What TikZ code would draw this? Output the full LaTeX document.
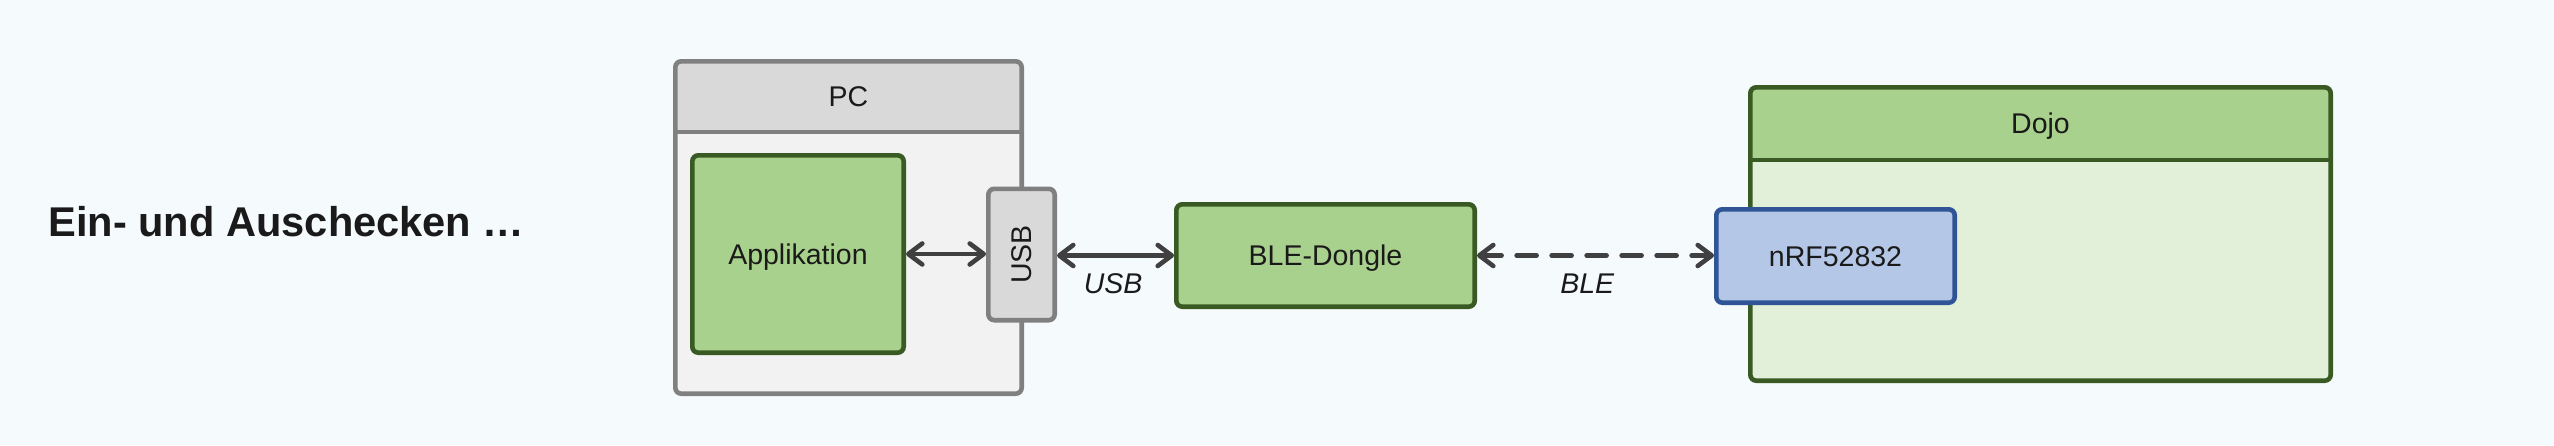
\documentclass[tikz,border=0pt]{standalone}
\usepackage{fontspec}
\setmainfont{Liberation Sans}
\usetikzlibrary{arrows.meta}
\definecolor{bgc}{HTML}{F5FAFD}
\definecolor{grayline}{HTML}{808080}
\definecolor{grayhead}{HTML}{D9D9D9}
\definecolor{graybody}{HTML}{F2F2F2}
\definecolor{greenfill}{HTML}{A9D18E}
\definecolor{greenline}{HTML}{3A5A24}
\definecolor{greenbody}{HTML}{E2F0D9}
\definecolor{bluefill}{HTML}{B4C7E7}
\definecolor{blueline}{HTML}{2F5597}
\definecolor{arrowc}{HTML}{404040}
\definecolor{txt}{HTML}{1A1A1A}
\begin{document}
\begin{tikzpicture}[x=0.5pt,y=-0.5pt,
  lbl/.style={font=\fontsize{14.25}{17}\selectfont, text=txt, text height=10.2pt, text depth=0pt, inner sep=0pt},
  box/.style={lbl, line width=2.3pt, rounded corners=3pt},
  greenbox/.style={box, draw=greenline, fill=greenfill},
  container/.style={rounded corners=3pt, inner sep=0pt, outer sep=0pt, line width=2.3pt},
  conn/.style={draw=arrowc, line width=2.3pt, line cap=round, line join=round,
     arrows={Straight Barb[length=7pt,width=10.5pt,line cap=round,line join=round]-Straight Barb[length=7pt,width=10.5pt,line cap=round,line join=round]}},
  wire/.style={lbl, font=\fontsize{14.25}{17}\selectfont\itshape}
]
\fill[bgc] (0,0) rectangle (2554,445);
\useasboundingbox (0,0) rectangle (2554,445);

% title
\node[font=\fontsize{20.8}{24}\selectfont\bfseries, text=txt, anchor=base west, inner sep=0pt] (title) at (48,236) {Ein- und Auschecken …};

% PC container
\node[container, fill=graybody, minimum width=173.2pt, minimum height=166.2pt] (pc) at (848.5,227.5) {};
\begin{scope}
  \clip (pc.north west) rectangle (pc.east |- 0,132);
  \fill[grayhead, rounded corners=3pt] (pc.north west) rectangle (pc.south east);
\end{scope}
\draw[draw=grayline, line width=2.3pt, rounded corners=3pt] (pc.north west) rectangle (pc.south east);
\draw[draw=grayline, line width=2.3pt] (pc.west |- 0,132) -- (pc.east |- 0,132);
\node[lbl] (pclabel) at (848.5,96) {PC};

% Applikation
\node[greenbox, minimum width=105.7pt, minimum height=98.7pt] (app) at (798,254) {Applikation};

% USB port
\node[box, draw=grayline, fill=grayhead, minimum width=33.2pt, minimum height=65.7pt, text height=, text depth=] (usb) at (1021.5,254.5) {\rotatebox{90}{USB}};

% BLE-Dongle
\node[greenbox, minimum width=149.2pt, minimum height=51.2pt] (ble) at (1325.5,255.5) {BLE-Dongle};

% Dojo container
\node[container, fill=greenbody, minimum width=290.2pt, minimum height=146.7pt] (dojo) at (2040.5,234) {};
\begin{scope}
  \clip (dojo.north west) rectangle (dojo.east |- 0,160);
  \fill[greenfill, rounded corners=3pt] (dojo.north west) rectangle (dojo.south east);
\end{scope}
\draw[draw=greenline, line width=2.3pt, rounded corners=3pt] (dojo.north west) rectangle (dojo.south east);
\draw[draw=greenline, line width=2.3pt] (dojo.west |- 0,160) -- (dojo.east |- 0,160);
\node[lbl] (dojolabel) at (2040.5,123) {Dojo};

% nRF52832
\node[box, draw=blueline, fill=bluefill, minimum width=119.2pt, minimum height=46.7pt] (nrf) at (1835.5,256) {nRF52832};

% connectors
\draw[conn] (app.east) -- (app.east -| usb.west);
\draw[conn] (usb.east |- ble.west) -- (ble.west) node[wire, pos=0.48, yshift=-14pt] (usblbl) {USB};
\draw[conn, dash pattern=on 10pt off 7.5pt] (ble.east) -- (ble.east -| nrf.west) node[wire, pos=0.465, yshift=-14pt] (blelbl) {BLE};
\end{tikzpicture}
\end{document}
